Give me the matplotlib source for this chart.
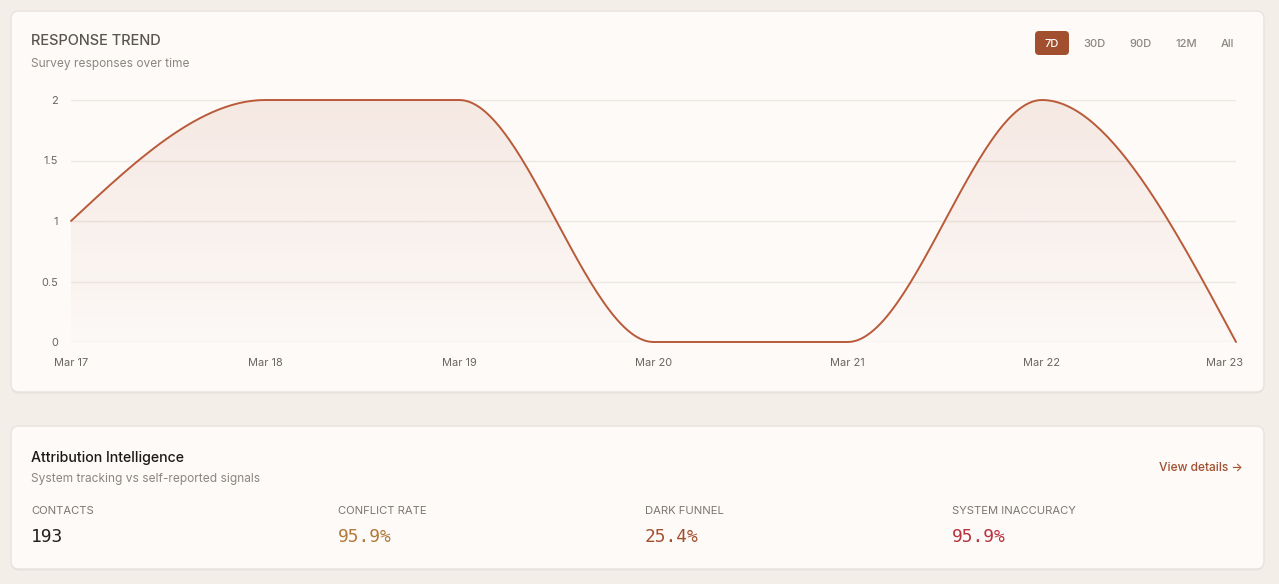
import numpy as np
import matplotlib
matplotlib.use("Agg")
import matplotlib.pyplot as plt
from matplotlib.patches import FancyBboxPatch, Polygon
import matplotlib.transforms as mtransforms

# ---------------- data ----------------
dates = ["Mar 17", "Mar 18", "Mar 19", "Mar 20", "Mar 21", "Mar 22", "Mar 23"]
responses = [1, 2, 2, 0, 0, 2, 0]
y_ticks = [0, 0.5, 1, 1.5, 2]
y_tick_labels = ["0", "0.5", "1", "1.5", "2"]
range_buttons = ["7D", "30D", "90D", "12M", "All"]
stat_labels = ["CONTACTS", "CONFLICT RATE", "DARK FUNNEL", "SYSTEM INACCURACY"]
stat_values = ["193", "95.9%", "25.4%", "95.9%"]
stat_colors = ["#222222", "#b27a3c", "#a4502f", "#b83240"]

W, H = 1279, 584
BG = "#f4eee9"
CARD = "#fdfaf8"
LINE = "#b95a38"
ACCENT = "#a14f2f"
plt.rcParams['font.family'] = ['Inter', 'DejaVu Sans']

fig = plt.figure(figsize=(W / 100, H / 100), dpi=100, facecolor=BG)

def rect(x0, y0, x1, y1):
    return [x0 / W, 1 - y1 / H, (x1 - x0) / W, (y1 - y0) / H]

# background overlay axes in pixel coordinates
bg = fig.add_axes([0, 0, 1, 1], zorder=0)
bg.set_xlim(0, W)
bg.set_ylim(H, 0)
bg.axis("off")

def card(x0, y0, x1, y1):
    sh = FancyBboxPatch((x0, y0 + 1.5), x1 - x0, y1 - y0,
                        boxstyle="round,pad=0,rounding_size=8",
                        fc="#e4ddd7", ec="none", alpha=0.8)
    bg.add_patch(sh)
    p = FancyBboxPatch((x0, y0), x1 - x0, y1 - y0,
                       boxstyle="round,pad=0,rounding_size=8",
                       fc=CARD, ec="#e9e3de", lw=1)
    bg.add_patch(p)

card(11, 11, 1264, 392)
card(11, 426, 1264, 569)

# top card header
bg.text(31, 41.3, "RESPONSE TREND", fontsize=10.5, color="#5a5550",
        va="center", ha="left", fontweight="medium")
bg.text(31, 63.5, "Survey responses over time", fontsize=8.6, color="#8c8681",
        va="center", ha="left")

btn_x = [1052, 1094, 1140, 1186, 1227]
for i, (lab, bx) in enumerate(zip(range_buttons, btn_x)):
    if i == 0:
        b = FancyBboxPatch((1035, 31), 34, 24, boxstyle="round,pad=0,rounding_size=4",
                           fc=ACCENT, ec="none")
        bg.add_patch(b)
        bg.text(bx, 44, lab, fontsize=8, color="white", ha="center", va="center",
                fontweight="medium")
    else:
        bg.text(bx, 44, lab, fontsize=8, color="#8c8681", ha="center", va="center",
                fontweight="medium")

# bottom card
bg.text(31, 458, "Attribution Intelligence", fontsize=10.2, color="#1c1a19",
        va="center", ha="left", fontweight="medium")
bg.text(31, 479, "System tracking vs self-reported signals", fontsize=8.6,
        color="#8c8681", va="center", ha="left")
bg.text(1243, 467.5, "View details \u2192", fontsize=8.6, color=ACCENT,
        va="center", ha="right", fontweight="medium")
col_x = [31, 338, 645, 952]
for lab, val, c, cx in zip(stat_labels, stat_values, stat_colors, col_x):
    bg.text(cx, 511.5, lab, fontsize=8.1, color="#7c7671", va="center", ha="left")
    bg.text(cx, 537, val, fontsize=12.9, color=c, va="center", ha="left",
            family="DejaVu Sans Mono")

# ---------------- chart ----------------
ax = fig.add_axes(rect(71, 100, 1236, 342), zorder=1)
ax.patch.set_alpha(0)
xs = np.arange(len(dates), dtype=float)
ys = np.array(responses, dtype=float)

def monotone_x(x, y, n=60):
    # d3 curveMonotoneX
    m = len(x)
    h = np.diff(x)
    s = np.diff(y) / h
    t = np.zeros(m)
    for i in range(1, m - 1):
        s0, s1 = s[i - 1], s[i]
        p = (s0 * h[i] + s1 * h[i - 1]) / (h[i - 1] + h[i])
        t[i] = (np.sign(s0) + np.sign(s1)) * min(abs(s0), abs(s1), 0.5 * abs(p))
    t[0] = (3 * s[0] - t[1]) / 2
    t[-1] = (3 * s[-1] - t[-2]) / 2
    px, py = [], []
    u = np.linspace(0, 1, n)
    for i in range(m - 1):
        dx = h[i]
        P0 = (x[i], y[i])
        P1 = (x[i] + dx / 3, y[i] + dx * t[i] / 3)
        P2 = (x[i + 1] - dx / 3, y[i + 1] - dx * t[i + 1] / 3)
        P3 = (x[i + 1], y[i + 1])
        bx = ((1 - u) ** 3) * P0[0] + 3 * ((1 - u) ** 2) * u * P1[0] + 3 * (1 - u) * u ** 2 * P2[0] + u ** 3 * P3[0]
        by = ((1 - u) ** 3) * P0[1] + 3 * ((1 - u) ** 2) * u * P1[1] + 3 * (1 - u) * u ** 2 * P2[1] + u ** 3 * P3[1]
        if i > 0:
            bx, by = bx[1:], by[1:]
        px.append(bx)
        py.append(by)
    return np.concatenate(px), np.concatenate(py)

cx_, cy_ = monotone_x(xs, ys)

ax.set_xlim(xs[0], xs[-1])
ax.set_ylim(0, 2)

for yt in y_ticks:
    ax.axhline(yt, color="#ede7e2", lw=1, zorder=1)

# gradient fill under curve
grad = np.linspace(0, 1, 256).reshape(-1, 1)
rgb = matplotlib.colors.to_rgb(LINE)
img = np.zeros((256, 1, 4))
img[..., 0], img[..., 1], img[..., 2] = rgb
img[..., 3] = (0.10 * (1 - grad) + 0.01)[:, 0:1]
im = ax.imshow(img, extent=[xs[0], xs[-1], 0, 2], origin="upper", aspect="auto",
               zorder=2, interpolation="bilinear")
poly = Polygon(np.column_stack([np.r_[cx_, cx_[-1], cx_[0]], np.r_[cy_, 0, 0]]),
               closed=True, fc="none", ec="none", transform=ax.transData)
ax.add_patch(poly)
im.set_clip_path(poly)

ax.plot(cx_, cy_, color=LINE, lw=1.4, zorder=3, clip_on=False, solid_capstyle="round")

for sp in ax.spines.values():
    sp.set_visible(False)
ax.set_yticks(y_ticks)
ax.set_yticklabels(y_tick_labels)
ax.set_xticks(xs)
ax.set_xticklabels(dates)
ax.tick_params(axis="both", length=0, labelsize=7.9, labelcolor="#6b6560")
ax.tick_params(axis="y", pad=9.5)
ax.tick_params(axis="x", pad=11.5)
last = ax.get_xticklabels()[-1]
last.set_horizontalalignment("right")
last.set_transform(last.get_transform() + mtransforms.ScaledTranslation(7 / 100, 0, fig.dpi_scale_trans))

fig.savefig("out.png", dpi=100, facecolor=BG)
